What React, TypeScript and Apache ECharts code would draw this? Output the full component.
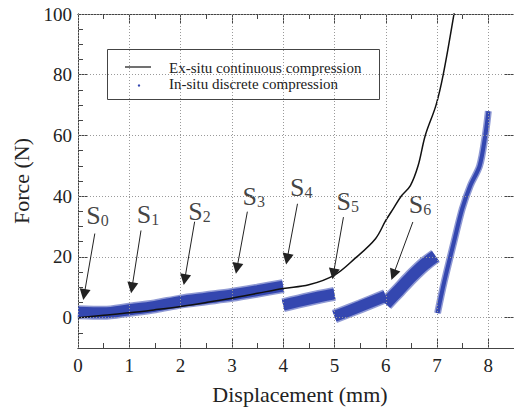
import React, { useEffect, useRef } from 'react';
import * as echarts from 'echarts';

// ---- data ----
const xTickValues = [0, 1, 2, 3, 4, 5, 6, 7, 8];
const yTickValues = [0, 20, 40, 60, 80, 100];

// Ex-situ continuous compression (black curve)
const exSituX = [0, 0.5, 1, 1.5, 2, 2.5, 3, 3.5, 4, 4.5, 5, 5.4, 5.8, 6.0, 6.15, 6.3, 6.48, 6.63, 6.77, 6.98, 7.12, 7.33, 7.36];
const exSituY = [0, 0.8, 1.6, 2.6, 3.7, 5.0, 6.4, 8.0, 9.6, 10.8, 14.0, 19.5, 26, 32, 36, 40, 43.5, 50, 60, 70, 80, 100, 104];

// In-situ discrete compression (blue bands, centre lines)
const stepS0S4X = [0, 0.5, 1, 1.5, 2, 2.5, 3, 3.5, 4];
const stepS0S4Y = [1.8, 1.6, 2.6, 3.7, 5.3, 6.4, 7.5, 8.9, 10.4];
const stepS4S5X = [4.0, 4.5, 5.0];
const stepS4S5Y = [4.1, 6.1, 7.8];
const stepS5S6X = [5.0, 5.5, 6.0];
const stepS5S6Y = [0.4, 3.7, 7.1];
const stepS6S7X = [6.0, 6.25, 6.5, 6.75, 6.97];
const stepS6S7Y = [4.5, 9.0, 13.5, 17.5, 20.3];
const stepFinalX = [7.01, 7.14, 7.33, 7.49, 7.65, 7.83, 7.94, 8.0];
const stepFinalY = [1.5, 11.8, 25, 35.8, 43.5, 50, 60, 68];

// Stage annotations S0..S6
const stageIds = ['0', '1', '2', '3', '4', '5', '6'];
const stageLabelX = [0.173, 1.157, 2.159, 3.219, 4.144, 5.05, 6.457];
const stageLabelY = [33.4, 33.7, 34.7, 39.8, 42.7, 38.1, 37.2];
const arrowTailX = [0.328, 1.228, 2.274, 3.302, 4.279, 5.175, 6.528];
const arrowTailY = [27.7, 28.7, 31.6, 34.9, 37.5, 33.1, 31.5];
const arrowHeadX = [0.121, 1.052, 2.08, 3.098, 4.077, 4.979, 6.147];
const arrowHeadY = [7.6, 9.8, 12.5, 16.2, 19.3, 14.4, 14.1];

const legendNames = ['Ex-situ continuous compression', 'In-situ discrete compression'];

const BLUE = '#3447b0';
const FONT = 'Liberation Serif';
const AXIS = '#444';

const zip = (xs: number[], ys: number[]) => xs.map((x, i) => [x, ys[i]]);

export default function App() {
  const ref = useRef<HTMLDivElement>(null);
  useEffect(() => {
    const chart = echarts.init(ref.current!, null, { renderer: 'svg' });
    const lineStyle = { color: AXIS, width: 1 };
    const X_MIN = 0, X_MAX = 8.5, Y_MIN = -10, Y_MAX = 100;

    const bandSeries = (xs: number[], ys: number[], width: number, opacity: number) => ({
      type: 'line',
      name: legendNames[1],
      data: zip(xs, ys),
      showSymbol: false,
      symbol: 'none',
      smooth: 0.3,
      lineStyle: { color: BLUE, width, cap: 'butt', opacity },
      z: 2,
      silent: true,
    });
    const band = (xs: number[], ys: number[], width: number) => [
      bandSeries(xs, ys, width + 3, 0.55),
      bandSeries(xs, ys, width, 1),
    ];

    const hidden = { axisLabel: { show: false }, splitLine: { show: false } };
    const labelText = { fontSize: 19, fontFamily: FONT, color: '#222' };

    const option: any = {
      animation: false,
      backgroundColor: '#fff',
      textStyle: { fontFamily: FONT },
      grid: { left: 78, right: -5, top: 14, bottom: 60, containLabel: false },
      xAxis: [
        {
          type: 'value', min: X_MIN, max: X_MAX, position: 'bottom',
          axisLine: { show: true, onZero: false, lineStyle },
          axisTick: { show: true, inside: true, length: 10, lineStyle, customValues: xTickValues },
          axisLabel: { customValues: xTickValues, margin: 8, ...labelText },
          splitLine: { show: false },
          name: 'Displacement (mm)', nameLocation: 'middle', nameGap: 35,
          nameTextStyle: { fontSize: 22, fontFamily: FONT, color: '#222', padding: [0, 0, 0, 8] },
        },
        {
          type: 'value', min: X_MIN, max: X_MAX, interval: 0.5, position: 'bottom',
          axisLine: { show: true, onZero: false, lineStyle },
          axisTick: { show: true, inside: true, length: 5, lineStyle }, ...hidden,
        },
        {
          type: 'value', min: X_MIN, max: X_MAX, position: 'top',
          axisLine: { show: true, onZero: false, lineStyle },
          axisTick: { show: true, inside: true, length: 10, lineStyle, customValues: xTickValues }, ...hidden,
        },
        {
          type: 'value', min: X_MIN, max: X_MAX, interval: 0.5, position: 'top',
          axisLine: { show: true, onZero: false, lineStyle },
          axisTick: { show: true, inside: true, length: 5, lineStyle }, ...hidden,
        },
      ],
      yAxis: [
        {
          type: 'value', min: Y_MIN, max: Y_MAX, position: 'left',
          axisLine: { show: true, onZero: false, lineStyle },
          axisTick: { show: true, inside: true, length: 10, lineStyle, customValues: yTickValues },
          axisLabel: { customValues: yTickValues, margin: 6, ...labelText },
          splitLine: { show: false },
          name: 'Force (N)', nameLocation: 'middle', nameGap: 46,
          nameTextStyle: { fontSize: 22, fontFamily: FONT, color: '#222' },
        },
        {
          type: 'value', min: Y_MIN, max: Y_MAX, interval: 5, position: 'left',
          axisLine: { show: true, onZero: false, lineStyle },
          axisTick: { show: true, inside: true, length: 5, lineStyle }, ...hidden,
        },
        {
          type: 'value', min: Y_MIN, max: Y_MAX, position: 'right',
          axisLine: { show: true, onZero: false, lineStyle },
          axisTick: { show: true, inside: true, length: 10, lineStyle, customValues: yTickValues }, ...hidden,
        },
      ],
      series: [
        {
          type: 'line',
          name: 'grid',
          data: [],
          z: 1,
          silent: true,
          markLine: {
            silent: true,
            animation: false,
            symbol: 'none',
            label: { show: false },
            lineStyle: { color: '#9a9a9a', type: [1, 2], width: 1 },
            data: [
              ...yTickValues.map((v) => ({ yAxis: v })),
              ...xTickValues.map((v) => ({ xAxis: v })),
            ],
          },
        },
        ...band(stepS0S4X, stepS0S4Y, 11),
        ...band(stepS4S5X, stepS4S5Y, 11),
        ...band(stepS5S6X, stepS5S6Y, 11),
        ...band(stepS6S7X, stepS6S7Y, 12),
        ...band(stepFinalX, stepFinalY, 4),
        {
          type: 'line',
          name: legendNames[0],
          data: zip(exSituX, exSituY),
          showSymbol: false,
          symbol: 'none',
          smooth: 0.35,
          lineStyle: { color: '#111', width: 1.5 },
          z: 3,
          silent: true,
        },
        {
          type: 'scatter',
          name: 'stages',
          data: zip(stageLabelX, stageLabelY),
          symbolSize: 1,
          itemStyle: { color: 'rgba(0,0,0,0)' },
          z: 4,
          silent: true,
          label: {
            show: true,
            position: [0, 0],
            align: 'left',
            verticalAlign: 'middle',
            fontFamily: FONT,
            formatter: (p: any) => `{s|S}{n|${stageIds[p.dataIndex]}}`,
            rich: {
              s: { fontSize: 26, fontFamily: FONT, color: '#111', verticalAlign: 'bottom', lineHeight: 26 },
              n: { fontSize: 16, fontFamily: FONT, color: '#111', verticalAlign: 'bottom', lineHeight: 16 },
            },
          },
          markLine: {
            silent: true,
            animation: false,
            symbol: ['none', 'triangle'],
            symbolSize: 11,
            label: { show: false },
            lineStyle: { color: '#222', width: 1, type: 'solid' },
            itemStyle: { color: '#000' },
            data: stageIds.map((_, i) => [
              { coord: [arrowTailX[i], arrowTailY[i]] },
              { coord: [arrowHeadX[i], arrowHeadY[i]] },
            ]),
          },
        },
      ],
      graphic: [
        {
          type: 'group', z: 100,
          children: [
            { type: 'rect', shape: { x: 107.5, y: 49.5, width: 272, height: 50 }, style: { fill: '#fff', stroke: '#444', lineWidth: 1 } },
            { type: 'line', shape: { x1: 125, y1: 67, x2: 151, y2: 67 }, style: { stroke: '#111', lineWidth: 1.2 } },
            { type: 'circle', shape: { cx: 139, cy: 85.5, r: 1.2 }, style: { fill: BLUE } },
            { type: 'text', x: 169, y: 67.5, style: { text: legendNames[0], fontSize: 15, fontFamily: FONT, fill: '#222', verticalAlign: 'middle' } },
            { type: 'text', x: 169, y: 84, style: { text: legendNames[1], fontSize: 15, fontFamily: FONT, fill: '#222', verticalAlign: 'middle' } },
          ],
        },
      ],
    };
    chart.setOption(option);
    return () => chart.dispose();
  }, []);
  return <div ref={ref} style={{ position: 'fixed', left: 0, top: 0, width: 514, height: 410, background: '#fff' }} />;
}
